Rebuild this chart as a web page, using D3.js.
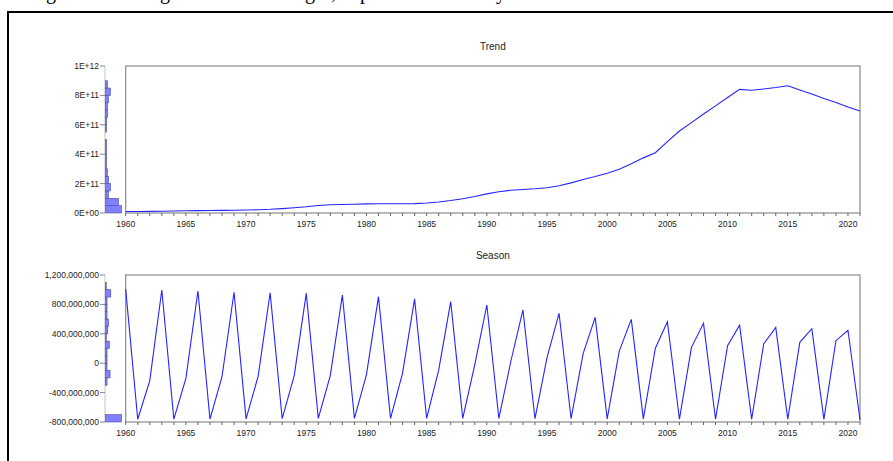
<!DOCTYPE html>
<html lang="en">
<head>
  <meta charset="UTF-8" />
  <title>Trend and Season</title>
  <style>
    body {
      margin: 0;
      padding: 0;
      background: #fff;
      overflow: hidden;
    }
    svg {
      display: block;
      font-family: Arial, "Liberation Sans", sans-serif;
    }
    .tick-label {
      font-size: 8.5px;
      fill: #222;
    }
    .panel-title {
      font-size: 10px;
      fill: #222;
    }
    .caption {
      font-family: "Liberation Serif", "DejaVu Serif", serif;
      font-size: 20px;
      fill: #000;
    }
  </style>
</head>
<body>
  <svg id="chart" width="893" height="461"></svg>

  <script src="https://cdn.jsdelivr.net/npm/d3@7"></script>
  <script>
    // years on the x axis
    const years = d3.range(1960, 2022);
    const xTicks = [1960, 1965, 1970, 1975, 1980, 1985, 1990, 1995, 2000, 2005, 2010, 2015, 2020];

    // trend component
    const trendValues = [
      1.0e10, 1.0e10, 1.1e10, 1.2e10, 1.4e10, 1.5e10, 1.6e10, 1.7e10, 1.8e10, 1.9e10,
      2.0e10, 2.2e10, 2.5e10, 3.0e10, 3.6e10, 4.2e10, 5.1e10, 5.6e10, 5.8e10, 6.0e10,
      6.2e10, 6.3e10, 6.3e10, 6.3e10, 6.4e10, 6.8e10, 7.5e10, 8.5e10, 9.7e10, 1.12e11,
      1.30e11, 1.45e11, 1.55e11, 1.60e11, 1.65e11, 1.72e11, 1.85e11, 2.05e11, 2.28e11, 2.48e11,
      2.70e11, 2.98e11, 3.35e11, 3.75e11, 4.10e11, 4.85e11, 5.58e11, 6.15e11, 6.73e11, 7.29e11,
      7.86e11, 8.41e11, 8.35e11, 8.44e11, 8.54e11, 8.66e11, 8.37e11, 8.10e11, 7.79e11, 7.52e11,
      7.21e11, 6.94e11
    ];

    // seasonal component, millions
    const seasonValues = [
      1005, -763, -238,  996, -762, -206,  982, -760, -184,  965,
      -758, -178,  959, -755, -170,  950, -752, -165,  928, -752,
      -155,  905, -750, -135,  874, -750,  -95,  837, -752,  -20,
       792, -752,   30,  724, -755,   75,  679, -755,  130,  624,
      -757,  165,  597, -758,  203,  565, -762,  216,  542, -762,
       238,  516, -763,  261,  488, -763,  284,  470, -765,  306,
       448, -770
    ].map(v => v * 1e6);

    const trendTicks = [0, 2e11, 4e11, 6e11, 8e11, 1e12];
    const trendTickLabels = ["0E+00", "2E+11", "4E+11", "6E+11", "8E+11", "1E+12"];
    const seasonTicks = [-8e8, -4e8, 0, 4e8, 8e8, 1.2e9];
    const seasonTickLabels = ["-800,000,000", "-400,000,000", "0", "400,000,000", "800,000,000", "1,200,000,000"];

    const svg = d3.select("#chart");

    // page frame and the clipped line of text above it
    svg.append("line").attr("x1", 8).attr("y1", 12).attr("x2", 893).attr("y2", 12)
      .attr("stroke", "#000").attr("stroke-width", 2);
    svg.append("line").attr("x1", 8).attr("y1", 11).attr("x2", 8).attr("y2", 461)
      .attr("stroke", "#000").attr("stroke-width", 2);

    const captionBits = [
      { text: "long", end: 56 },
      { text: "showing", end: 170 },
      { text: "using it,", end: 336 },
      { text: "top", end: 370 },
      { text: "entirely", end: 506 }
    ];
    svg.selectAll(".caption").data(captionBits).join("text")
      .attr("class", "caption")
      .attr("x", d => d.end)
      .attr("y", -1.5)
      .attr("text-anchor", "end")
      .text(d => d.text);

    const x = d3.scaleLinear().domain([1960, 2021]).range([125.7, 860]);

    function drawPanel(opts) {
      const { values, top, bottom, domain, ticks, tickLabels, title, binStep } = opts;
      const y = d3.scaleLinear().domain(domain).range([bottom, top]);
      const g = svg.append("g");

      // title
      g.append("text")
        .attr("class", "panel-title")
        .attr("x", (x.range()[0] + x.range()[1]) / 2)
        .attr("y", top - 16.5)
        .attr("text-anchor", "middle")
        .text(title);

      // histogram axis on the left
      const axisX = 105;
      g.append("line")
        .attr("x1", axisX).attr("x2", axisX)
        .attr("y1", top).attr("y2", bottom)
        .attr("stroke", "#c4c4c4");

      g.selectAll(".ytick").data(ticks).join("line")
        .attr("x1", axisX - 5).attr("x2", axisX)
        .attr("y1", d => y(d)).attr("y2", d => y(d))
        .attr("stroke", "#888");

      g.selectAll(".ylabel").data(ticks).join("text")
        .attr("class", "tick-label")
        .attr("x", axisX - 6)
        .attr("y", d => y(d))
        .attr("dy", "0.35em")
        .attr("text-anchor", "end")
        .text((d, i) => tickLabels[i]);

      // histogram of the series, drawn sideways
      const bins = d3.bin()
        .domain(domain)
        .thresholds(d3.range(domain[0], domain[1], binStep))(values);
      const w = d3.scaleLinear()
        .domain([0, d3.max(bins, b => b.length)])
        .range([0, 16]);

      g.selectAll(".bin").data(bins.filter(b => b.length > 0)).join("rect")
        .attr("x", axisX + 0.5)
        .attr("y", b => y(b.x1))
        .attr("width", b => w(b.length))
        .attr("height", b => y(b.x0) - y(b.x1))
        .attr("fill", "#8080ff")
        .attr("stroke", "#4a4a9c")
        .attr("stroke-width", 0.6);

      // plot frame
      g.append("rect")
        .attr("x", x.range()[0]).attr("y", top)
        .attr("width", x.range()[1] - x.range()[0])
        .attr("height", bottom - top)
        .attr("fill", "none")
        .attr("stroke", "#8a8a8a")
        .attr("stroke-width", 1.2);

      // year ticks
      g.selectAll(".xtick").data(years).join("line")
        .attr("x1", d => x(d)).attr("x2", d => x(d))
        .attr("y1", bottom).attr("y2", bottom + 3)
        .attr("stroke", "#666");

      g.selectAll(".xlabel").data(xTicks).join("text")
        .attr("class", "tick-label")
        .attr("x", d => x(d))
        .attr("y", bottom + 14)
        .attr("text-anchor", "middle")
        .text(d => d);

      // the series line
      const line = d3.line()
        .x((d, i) => x(years[i]))
        .y(d => y(d));

      g.append("path")
        .datum(values)
        .attr("d", line)
        .attr("fill", "none")
        .attr("stroke", "#2424ff")
        .attr("stroke-width", 1.1);
    }

    drawPanel({
      values: trendValues,
      top: 66, bottom: 213,
      domain: [0, 1e12],
      ticks: trendTicks,
      tickLabels: trendTickLabels,
      title: "Trend",
      binStep: 5e10
    });

    drawPanel({
      values: seasonValues,
      top: 275, bottom: 422,
      domain: [-8e8, 1.2e9],
      ticks: seasonTicks,
      tickLabels: seasonTickLabels,
      title: "Season",
      binStep: 1e8
    });
  </script>
</body>
</html>
